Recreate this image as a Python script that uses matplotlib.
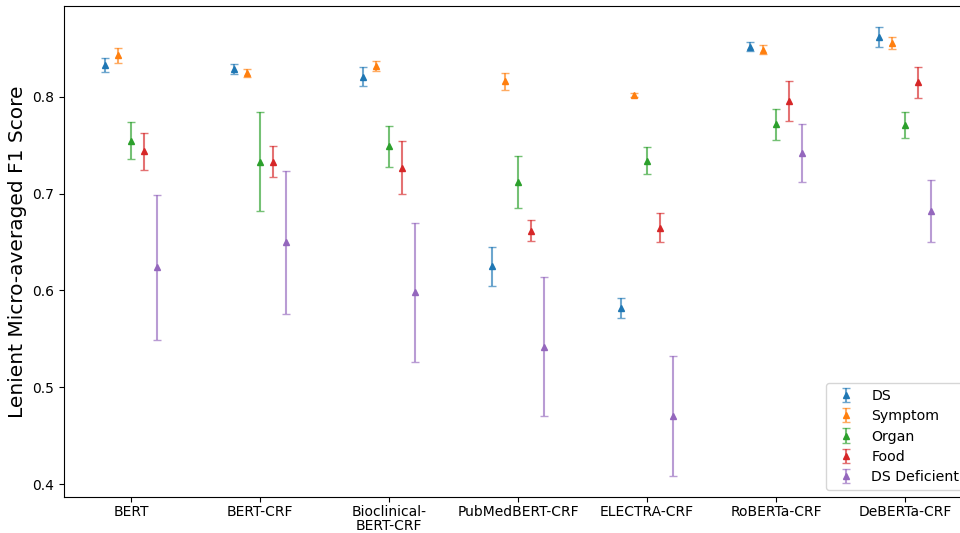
import numpy as np
import matplotlib.pyplot as plt

models = ["BERT", "BERT-CRF", "Bioclinical-\nBERT-CRF", "PubMedBERT-CRF",
          "ELECTRA-CRF", "RoBERTa-CRF", "DeBERTa-CRF"]
entities = ["DS", "Symptom", "Organ", "Food", "DS Deficient"]

# mean F1 per model, one list per entity
ds_mean = [0.833, 0.829, 0.821, 0.625, 0.582, 0.852, 0.862]
symptom_mean = [0.843, 0.825, 0.832, 0.816, 0.802, 0.849, 0.856]
organ_mean = [0.755, 0.733, 0.749, 0.712, 0.734, 0.772, 0.771]
food_mean = [0.744, 0.733, 0.727, 0.662, 0.665, 0.796, 0.815]
dsdef_mean = [0.624, 0.650, 0.598, 0.542, 0.470, 0.742, 0.682]

# error (std) per model
ds_err = [0.007, 0.005, 0.010, 0.020, 0.010, 0.005, 0.010]
symptom_err = [0.008, 0.004, 0.005, 0.009, 0.002, 0.005, 0.006]
organ_err = [0.019, 0.051, 0.021, 0.027, 0.014, 0.016, 0.013]
food_err = [0.019, 0.016, 0.027, 0.011, 0.015, 0.021, 0.016]
dsdef_err = [0.075, 0.074, 0.072, 0.072, 0.062, 0.030, 0.032]

means = [ds_mean, symptom_mean, organ_mean, food_mean, dsdef_mean]
errs = [ds_err, symptom_err, organ_err, food_err, dsdef_err]
offsets = [-0.2, -0.1, 0.0, 0.1, 0.2]

fig = plt.figure(figsize=(9.6, 5.33), dpi=100)
# the original figure is cropped on the right, so the axes run past the edge
ax = fig.add_axes([64 / 960, 1 - 497 / 533, (972 - 64) / 960, (497 - 6) / 533])

x = np.arange(len(models))
for name, m, e, off in zip(entities, means, errs, offsets):
    eb = ax.errorbar(x + off, m, yerr=e, fmt="^", markersize=4.5,
                     capsize=3, elinewidth=1.5, label=name)
    for c in eb[1]:
        c.set_alpha(0.65)
    for c in eb[2]:
        c.set_alpha(0.65)

ax.set_xticks(x)
ax.set_xticklabels(models, fontsize=10, linespacing=1.0)
ax.tick_params(axis="x", pad=2.5)
ax.tick_params(axis="y", labelsize=10)
ax.set_xlim(-0.52, 6.52)
ax.set_ylim(0.3866, 0.894)
ax.set_yticks([0.4, 0.5, 0.6, 0.7, 0.8])
ax.set_ylabel("Lenient Micro-averaged F1 Score", fontsize=14.5)
ax.legend(loc="lower right", fontsize=10.2, labelspacing=0.45)

fig.savefig("out.png", dpi=100)
